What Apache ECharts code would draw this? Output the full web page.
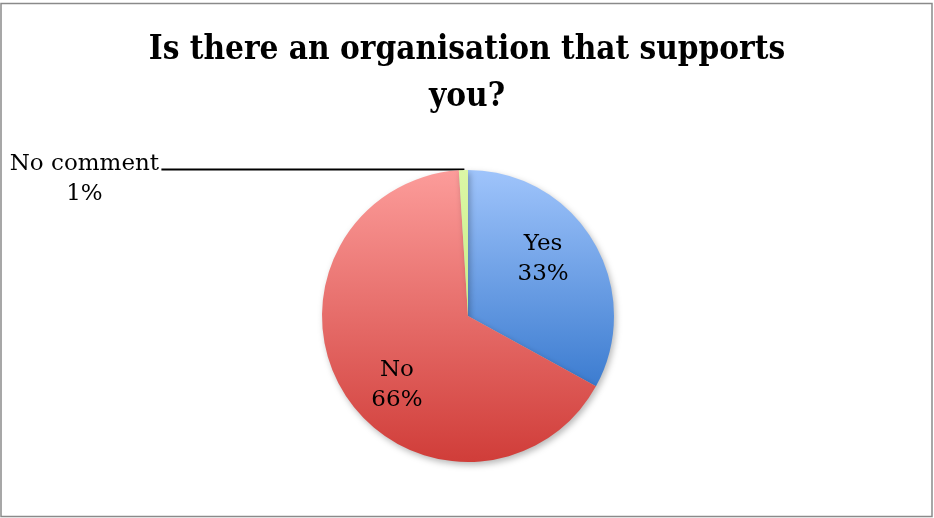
<!DOCTYPE html>
<html>
<head>
<meta charset="utf-8">
<script src="https://cdn.jsdelivr.net/npm/echarts@6/dist/echarts.min.js"></script>
<style>
  html, body { margin: 0; padding: 0; background: #ffffff; }
  #chart { width: 934px; height: 518px; }
</style>
</head>
<body>
<div id="chart"></div>
<script>
// Survey answers: share of respondents (%)
const categories = ['Yes', 'No', 'No comment'];
const shares = [33, 66, 1];

// Slice fills: light top colour fading to a deeper bottom colour
const topColors = ['#9fc4fb', '#fc9c9a', '#dcf7a6'];
const bottomColors = ['#3c7cd0', '#d03d39', '#c9ee86'];

const titleText = 'Is there an organisation that supports\nyou?';

const labelFont = 'DejaVu Serif';

// Small hand nudges for the in-slice labels (pixels)
const insideNudge = [[-2, 7], [4, 3], [0, 0]];

function sliceFill(i) {
  return new echarts.graphic.LinearGradient(0, 0, 0, 1, [
    { offset: 0, color: topColors[i] },
    { offset: 1, color: bottomColors[i] }
  ]);
}

const center = [468, 316];
const outerR = 146;

// Slices, with the outside label only on the smallest answer
const sliceData = categories.map((name, i) => ({
  name: name,
  value: shares[i],
  itemStyle: { color: sliceFill(i) },
  label: i === 2
    ? { show: true, position: 'outside' }
    : { show: false },
  labelLine: { show: i === 2 }
}));

// Transparent ring carrying the in-slice labels a bit further out from the centre
const ringData = categories.map((name, i) => ({
  name: name,
  value: shares[i],
  label: { show: i !== 2 }
}));

const chart = echarts.init(document.getElementById('chart'), null, { renderer: 'canvas' });

chart.setOption({
  animation: false,
  backgroundColor: '#ffffff',
  title: {
    text: titleText,
    left: 'center',
    top: 22,
    textStyle: {
      fontFamily: 'DejaVu Serif Condensed',
      fontWeight: 'bold',
      fontSize: 33,
      lineHeight: 47,
      color: '#000000'
    }
  },
  graphic: [{
    type: 'rect',
    silent: true,
    shape: { x: 1, y: 3.5, width: 931, height: 513 },
    style: { fill: 'none', stroke: '#8a8a8a', lineWidth: 1.5 }
  }],
  series: [
    {
      type: 'pie',
      center: center,
      radius: [0, outerR],
      startAngle: 90,
      clockwise: true,
      avoidLabelOverlap: false,
      silent: true,
      itemStyle: {
        borderWidth: 0,
        shadowBlur: 6,
        shadowOffsetX: 2,
        shadowOffsetY: 3,
        shadowColor: 'rgba(0,0,0,0.28)'
      },
      label: {
        formatter: p => '{a|' + p.name + '}\n{a|' + p.value + '%}',
        padding: [18, 0, 0, 0],
        distanceToLabelLine: 4,
        rich: {
          a: {
            fontFamily: labelFont,
            fontSize: 23,
            lineHeight: 30,
            width: 146,
            align: 'center',
            color: '#000000'
          }
        }
      },
      labelLine: {
        length: 0.5,
        length2: 302,
        lineStyle: { color: '#000000', width: 2 }
      },
      emphasis: { disabled: true },
      data: sliceData
    },
    {
      type: 'pie',
      center: center,
      radius: [outerR * 0.33, outerR],
      startAngle: 99,
      clockwise: true,
      silent: true,
      itemStyle: { color: 'rgba(0,0,0,0)', borderWidth: 0 },
      label: {
        position: 'inside',
        formatter: p => p.name + '\n' + p.value + '%',
        fontFamily: labelFont,
        fontSize: 23,
        lineHeight: 30,
        color: '#000000',
        align: 'center'
      },
      labelLayout: p => ({
        dx: insideNudge[p.dataIndex][0],
        dy: insideNudge[p.dataIndex][1]
      }),
      labelLine: { show: false },
      emphasis: { disabled: true },
      data: ringData
    }
  ]
});
</script>
</body>
</html>
